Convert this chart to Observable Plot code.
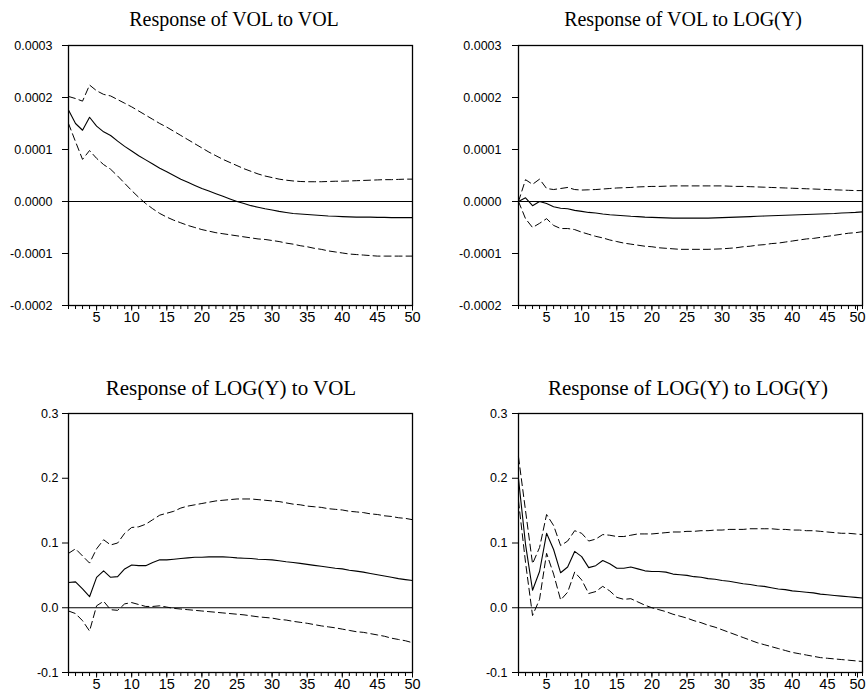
<!DOCTYPE html>
<html>
<head>
<meta charset="utf-8">
<script src="https://cdn.jsdelivr.net/npm/d3@7"></script>
<script src="https://cdn.jsdelivr.net/npm/@observablehq/plot@0.6"></script>
<style>
  html, body { margin: 0; padding: 0; background: #fff; }
  #root { position: relative; width: 866px; height: 698px; overflow: hidden; background: #fff; }
  .ttl { position: absolute; width: 420px; text-align: center; font-family: "Liberation Serif", "Times New Roman", serif; color: #000; white-space: nowrap; }
  .pn { position: absolute; }
</style>
</head>
<body>
<div id="root"></div>
<script>
const periods = [1,2,3,4,5,6,7,8,9,10,11,12,13,14,15,16,17,18,19,20,21,22,23,24,25,26,27,28,29,30,31,32,33,34,35,36,37,38,39,40,41,42,43,44,45,46,47,48,49,50];
const xMajorTicks = [5,10,15,20,25,30,35,40,45];
const xLastTick = [50];

const titles = ["Response of VOL to VOL", "Response of VOL to LOG(Y)", "Response of LOG(Y) to VOL", "Response of LOG(Y) to LOG(Y)"];

const yTicksVol = [-0.0002, -0.0001, 0, 0.0001, 0.0002, 0.0003];
const yTickLabelsVol = ["-0.0002", "-0.0001", "0.0000", "0.0001", "0.0002", "0.0003"];
const yTicksLogY = [-0.1, 0, 0.1, 0.2, 0.3];
const yTickLabelsLogY = ["-0.1", "0.0", "0.1", "0.2", "0.3"];

// Response of VOL to VOL
const volVolResp = [0.000176,0.000150,0.000137,0.000162,0.000145,0.000134,0.000127,0.000116,0.000106,0.000097,0.000088,0.000080,0.000072,0.000064,0.000057,0.000050,0.000043,0.000037,0.000031,0.000025,0.000020,0.000015,0.000010,0.000005,0.000000,-0.000004,-0.000008,-0.000011,-0.000014,-0.0000165,-0.000019,-0.000021,-0.000023,-0.000024,-0.000025,-0.000026,-0.000027,-0.000028,-0.0000285,-0.000029,-0.0000295,-0.000030,-0.000030,-0.000030,-0.0000305,-0.0000305,-0.000031,-0.000031,-0.000031,-0.000031];
const volVolUpper = [0.000202,0.000198,0.000193,0.000224,0.000213,0.000206,0.000203,0.000196,0.000189,0.000182,0.000174,0.000166,0.000158,0.000150,0.000143,0.000135,0.000127,0.000119,0.000111,0.000103,0.000095,0.000088,0.000081,0.000075,0.000069,0.000063,0.000058,0.000053,0.000049,0.000046,0.000043,0.000041,0.0000395,0.0000385,0.000038,0.000038,0.000038,0.0000385,0.000039,0.000039,0.0000395,0.000040,0.0000405,0.000041,0.0000415,0.000042,0.000042,0.0000425,0.000043,0.000043];
const volVolLower = [0.000150,0.000115,0.000081,0.000098,0.000083,0.000071,0.000062,0.000049,0.000035,0.000021,0.000008,-0.000004,-0.000014,-0.000023,-0.000030,-0.000036,-0.000041,-0.000046,-0.000050,-0.000054,-0.000057,-0.000060,-0.000062,-0.000064,-0.000066,-0.000068,-0.000070,-0.000072,-0.000073,-0.000075,-0.000077,-0.000080,-0.000082,-0.000085,-0.000087,-0.000090,-0.000092,-0.000095,-0.000097,-0.000099,-0.000101,-0.000102,-0.000103,-0.000104,-0.000105,-0.000105,-0.000105,-0.000105,-0.000105,-0.000105];

// Response of VOL to LOG(Y)
const volLogResp = [0.0,0.000007,-0.000008,0.0,-0.000004,-0.000010,-0.000013,-0.000014,-0.000017,-0.000019,-0.000021,-0.000022,-0.000024,-0.0000255,-0.0000265,-0.0000275,-0.0000285,-0.000029,-0.000030,-0.0000305,-0.000031,-0.0000315,-0.000032,-0.000032,-0.000032,-0.000032,-0.000032,-0.000032,-0.0000315,-0.000031,-0.0000305,-0.000030,-0.0000295,-0.000029,-0.0000285,-0.000028,-0.0000275,-0.000027,-0.0000265,-0.000026,-0.0000255,-0.000025,-0.0000245,-0.000024,-0.0000235,-0.000023,-0.000022,-0.0000215,-0.000021,-0.000020];
const volLogUpper = [0.0,0.000042,0.000033,0.000043,0.000025,0.000023,0.000025,0.000027,0.000023,0.000022,0.0000225,0.000023,0.000024,0.000025,0.000026,0.0000265,0.000027,0.000028,0.0000285,0.000029,0.000029,0.0000295,0.000030,0.000030,0.000030,0.000030,0.000030,0.000030,0.000030,0.000030,0.0000295,0.000029,0.000029,0.0000285,0.000028,0.0000275,0.000027,0.0000265,0.000026,0.0000255,0.000025,0.0000245,0.000024,0.0000235,0.000023,0.0000225,0.000022,0.0000215,0.000021,0.000021];
const volLogLower = [0.0,-0.000033,-0.000050,-0.000042,-0.000033,-0.000046,-0.000052,-0.000052,-0.000054,-0.000059,-0.000063,-0.000067,-0.000070,-0.000074,-0.000077,-0.000080,-0.000082,-0.000084,-0.000086,-0.000087,-0.000089,-0.000090,-0.000091,-0.000092,-0.000092,-0.000092,-0.000092,-0.000092,-0.0000915,-0.000091,-0.000090,-0.000089,-0.000087,-0.000086,-0.000084,-0.000083,-0.000081,-0.000080,-0.000078,-0.000076,-0.000074,-0.000072,-0.000071,-0.000069,-0.000067,-0.000065,-0.000063,-0.000061,-0.000060,-0.000058];

// Response of LOG(Y) to VOL
const logVolResp = [0.039,0.040,0.029,0.017,0.047,0.057,0.047,0.048,0.060,0.066,0.065,0.065,0.070,0.074,0.074,0.075,0.076,0.077,0.078,0.078,0.0785,0.0785,0.0785,0.078,0.077,0.0765,0.076,0.075,0.0745,0.074,0.0725,0.071,0.070,0.0685,0.067,0.0655,0.064,0.0625,0.061,0.060,0.058,0.0565,0.055,0.053,0.051,0.049,0.047,0.045,0.0435,0.042];
const logVolUpper = [0.084,0.091,0.080,0.069,0.091,0.105,0.097,0.100,0.115,0.124,0.125,0.129,0.136,0.143,0.146,0.149,0.154,0.157,0.159,0.161,0.163,0.165,0.166,0.167,0.168,0.168,0.168,0.167,0.166,0.165,0.164,0.162,0.160,0.159,0.157,0.156,0.155,0.153,0.152,0.151,0.149,0.148,0.147,0.145,0.144,0.142,0.141,0.139,0.138,0.136];
const logVolLower = [-0.005,-0.009,-0.020,-0.036,0.003,0.010,-0.003,-0.004,0.006,0.008,0.005,0.002,0.002,0.003,0.001,-0.001,-0.002,-0.003,-0.004,-0.005,-0.006,-0.007,-0.008,-0.009,-0.010,-0.011,-0.0125,-0.014,-0.015,-0.016,-0.018,-0.019,-0.021,-0.0225,-0.024,-0.026,-0.028,-0.0295,-0.031,-0.033,-0.035,-0.037,-0.038,-0.040,-0.042,-0.044,-0.047,-0.049,-0.051,-0.054];

// Response of LOG(Y) to LOG(Y)
const logLogResp = [0.199,0.098,0.027,0.056,0.115,0.090,0.054,0.063,0.087,0.079,0.062,0.065,0.073,0.068,0.061,0.061,0.063,0.060,0.057,0.056,0.056,0.055,0.052,0.051,0.050,0.048,0.047,0.045,0.044,0.042,0.041,0.039,0.037,0.036,0.034,0.033,0.031,0.029,0.028,0.026,0.025,0.024,0.023,0.021,0.020,0.019,0.018,0.017,0.016,0.015];
const logLogUpper = [0.233,0.150,0.068,0.093,0.144,0.127,0.096,0.103,0.119,0.115,0.103,0.106,0.113,0.112,0.110,0.110,0.112,0.114,0.114,0.114,0.115,0.116,0.117,0.117,0.118,0.118,0.119,0.119,0.120,0.120,0.121,0.121,0.121,0.122,0.122,0.122,0.122,0.121,0.121,0.120,0.120,0.119,0.119,0.118,0.117,0.116,0.115,0.115,0.114,0.113];
const logLogLower = [0.165,0.070,-0.012,0.013,0.084,0.052,0.012,0.024,0.055,0.043,0.022,0.025,0.033,0.026,0.016,0.013,0.014,0.009,0.004,0.000,-0.003,-0.006,-0.010,-0.013,-0.016,-0.020,-0.023,-0.027,-0.030,-0.034,-0.038,-0.042,-0.046,-0.050,-0.054,-0.057,-0.060,-0.063,-0.066,-0.069,-0.071,-0.073,-0.075,-0.077,-0.078,-0.079,-0.080,-0.081,-0.082,-0.083];

const root = document.getElementById("root");

function panel(cfg) {
  const labelMap = new Map(cfg.yTicks.map((t, i) => [t, cfg.yLabels[i]]));
  const svg = Plot.plot({
    width: 433,
    height: 300,
    marginLeft: cfg.ml,
    marginRight: cfg.mr,
    marginTop: 15,
    marginBottom: cfg.mb,
    style: { fontFamily: "'Liberation Sans', Arial, sans-serif", background: "white", color: "black", overflow: "visible" },
    x: { domain: [1, 50] },
    y: { domain: cfg.yDomain },
    marks: [
      Plot.ruleY([0], { stroke: "black", strokeWidth: 1 }),
      Plot.lineY(cfg.upper, { x: periods, stroke: "black", strokeWidth: 1, strokeDasharray: "7,4" }),
      Plot.lineY(cfg.lower, { x: periods, stroke: "black", strokeWidth: 1, strokeDasharray: "7,4" }),
      Plot.lineY(cfg.resp, { x: periods, stroke: "black", strokeWidth: 1.1 }),
      Plot.axisX({ ticks: periods, tickSize: 4, tickFormat: () => "", label: null, strokeWidth: 1 }),
      Plot.axisX({ ticks: xMajorTicks, tickSize: 5.5, tickPadding: 1, tickFormat: d => String(d), label: null, fontSize: 14.5 }),
      Plot.axisX({ ticks: xLastTick, tickSize: 5.5, tickPadding: 1, tickFormat: d => String(d), label: null, fontSize: 14.5, dx: cfg.lastDx }),
      Plot.axisY({ ticks: cfg.yTicks, tickSize: 6, tickPadding: cfg.yPad, tickFormat: d => labelMap.get(d), label: null, fontSize: 12.5 }),
      Plot.frame({ stroke: "black", strokeWidth: 1.3 })
    ]
  });
  svg.classList.add("pn");
  svg.style.left = cfg.left + "px";
  svg.style.top = cfg.top + "px";
  root.appendChild(svg);

  const t = document.createElement("div");
  t.className = "ttl";
  t.textContent = cfg.title;
  t.style.fontSize = cfg.tfs + "px";
  t.style.lineHeight = cfg.tfs + "px";
  t.style.left = (cfg.tcx - 210) + "px";
  t.style.top = cfg.ttop + "px";
  root.appendChild(t);
}

panel({ title: titles[0], tcx: 234, ttop: 9, tfs: 20, left: 0, top: 30, ml: 68, mr: 21, mb: 25, yPad: 10, lastDx: 0,
  yDomain: [-0.0002, 0.0003], yTicks: yTicksVol, yLabels: yTickLabelsVol,
  resp: volVolResp, upper: volVolUpper, lower: volVolLower });
panel({ title: titles[1], tcx: 683, ttop: 9, tfs: 20, left: 433, top: 30, ml: 85, mr: 4, mb: 25, yPad: 11, lastDx: -5,
  yDomain: [-0.0002, 0.0003], yTicks: yTicksVol, yLabels: yTickLabelsVol,
  resp: volLogResp, upper: volLogUpper, lower: volLogLower });
panel({ title: titles[2], tcx: 231, ttop: 378, tfs: 21, left: 0, top: 398, ml: 68, mr: 21, mb: 26, yPad: 4, lastDx: 0,
  yDomain: [-0.1, 0.3], yTicks: yTicksLogY, yLabels: yTickLabelsLogY,
  resp: logVolResp, upper: logVolUpper, lower: logVolLower });
panel({ title: titles[3], tcx: 688, ttop: 378, tfs: 21, left: 433, top: 398, ml: 85, mr: 4, mb: 26, yPad: 5, lastDx: -5,
  yDomain: [-0.1, 0.3], yTicks: yTicksLogY, yLabels: yTickLabelsLogY,
  resp: logLogResp, upper: logLogUpper, lower: logLogLower });
</script>
</body>
</html>
